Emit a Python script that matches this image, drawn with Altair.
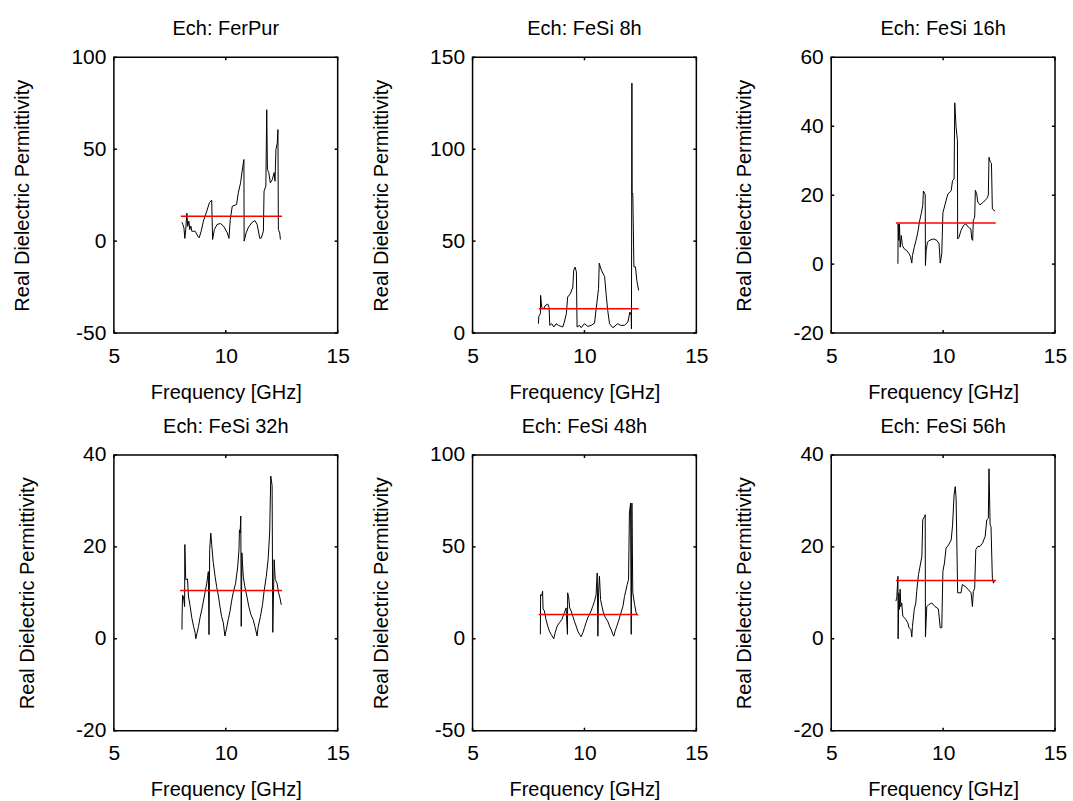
import altair as alt
import pandas as pd

FONT = "Liberation Sans"
W, H = 224, 276

titles = ["Ech: FerPur", "Ech: FeSi 8h", "Ech: FeSi 16h",
          "Ech: FeSi 32h", "Ech: FeSi 48h", "Ech: FeSi 56h"]

y_domains = [[-50, 100], [0, 150], [-20, 60], [-20, 40], [-50, 100], [-20, 40]]
y_ticks = [[-50, 0, 50, 100], [0, 50, 100, 150], [-20, 0, 20, 40, 60],
           [-20, 0, 20, 40], [-50, 0, 50, 100], [-20, 0, 20, 40]]
x_ticks = [5, 10, 15]

# Panel 1: FerPur
f1 = [8.04, 8.08, 8.13, 8.17, 8.21, 8.26, 8.30, 8.35, 8.39, 8.44, 8.48, 8.63, 8.75, 8.81,
      8.90, 9.00, 9.15, 9.27, 9.37, 9.41, 9.49, 9.61, 9.76, 9.90, 10.07, 10.14, 10.20, 10.29,
      10.48, 10.56, 10.66, 10.75, 10.81, 10.82, 10.91, 11.00, 11.15, 11.30, 11.40, 11.52,
      11.59, 11.68, 11.71, 11.79, 11.83, 11.86, 11.92, 11.99, 12.08, 12.16, 12.20, 12.24,
      12.30, 12.33, 12.35, 12.41, 12.44]
e1 = [10.3, 9.1, 7.2, 1.5, 6.3, 15.2, 8.0, 10.9, 6.3, 8.2, 5.4, 5.4, 2.7, 1.8,
      5.4, 10.9, 16.3, 21.0, 22.3, 0.9, 6.3, 9.1, 9.6, 8.2, 4.5, 1.5, 11.8, 19.0,
      19.9, 26.3, 31.7, 39.9, 44.4, 0.0, 4.5, 7.2, 9.9, 11.2, 9.1, 1.5,
      1.8, 5.4, 27.2, 29.9, 71.5, 39.1, 37.3, 31.7, 33.5, 37.3, 32.6, 49.8,
      53.3, 60.7, 6.3, 4.5, 0.9]

# Panel 2: FeSi 8h
f2 = [7.94, 7.96, 8.03, 8.04, 8.09, 8.18, 8.24, 8.36, 8.42, 8.45, 8.54, 8.63, 8.73, 8.84,
      8.96, 9.03, 9.10, 9.19, 9.25, 9.37, 9.48, 9.52, 9.58, 9.64, 9.67, 9.78, 9.85, 10.00,
      10.15, 10.30, 10.45, 10.55, 10.63, 10.66, 10.75, 10.82, 10.90, 10.97, 11.04, 11.12,
      11.27, 11.49, 11.61, 11.79, 11.94, 12.03, 12.09, 12.10, 12.12, 12.13, 12.16, 12.21,
      12.28, 12.34, 12.42]
e2 = [5.1, 9.1, 10.5, 20.5, 14.0, 13.2, 14.9, 15.8, 14.0, 4.2, 5.1, 3.3, 5.1, 4.2,
      3.6, 3.3, 6.0, 10.5, 19.6, 21.4, 25.0, 34.1, 35.9, 33.3, 3.3, 4.2, 2.9, 5.1,
      3.6, 4.2, 5.4, 15.9, 24.3, 38.0, 34.4, 32.6, 30.8, 21.0, 12.3, 5.1,
      2.9, 5.1, 4.2, 4.2, 6.0, 11.4, 9.6, 2.3, 136.0, 75.7, 76.0, 36.0,
      36.0, 28.6, 23.2]

# Panel 3: FeSi 16h
f3 = [7.98, 7.99, 8.02, 8.05, 8.08, 8.13, 8.18, 8.27, 8.38, 8.48, 8.54, 8.60, 8.63, 8.71,
      8.79, 8.87, 8.94, 9.02, 9.09, 9.12, 9.20, 9.21, 9.24, 9.30, 9.42, 9.57, 9.72, 9.82,
      9.87, 9.94, 9.99, 10.09, 10.21, 10.36, 10.42, 10.49, 10.52, 10.58, 10.64, 10.65,
      10.71, 10.80, 10.91, 11.01, 11.13, 11.24, 11.28, 11.32, 11.35, 11.41, 11.44, 11.50,
      11.55, 11.65, 11.80, 11.95, 12.02, 12.05, 12.11, 12.16, 12.20, 12.32]
e3 = [0.1, 11.7, 6.9, 11.7, 4.9, 8.3, 5.4, 4.4, 3.9, 3.0, 2.2, 0.3, 2.5, 4.9,
      6.9, 9.3, 12.2, 14.6, 17.0, 21.2, 20.2, -0.4, 3.9, 6.4, 7.0, 7.3, 6.9, 5.9,
      0.3, 3.0, 14.9, 17.4, 20.3, 21.3, 24.2, 24.7, 46.8, 39.7, 35.8, 7.3,
      7.8, 9.8, 11.2, 11.7, 10.7, 10.2, 7.3, 6.9, 12.7, 13.6, 21.4, 20.4,
      18.0, 17.2, 18.0, 19.0, 20.0, 31.0, 29.6, 29.3, 16.0, 15.4]

# Panel 4: FeSi 32h
f4 = [8.04, 8.05, 8.07, 8.11, 8.16, 8.17, 8.21, 8.29, 8.33, 8.41, 8.48, 8.56, 8.63, 8.66,
      8.72, 8.78, 8.85, 8.93, 9.00, 9.07, 9.15, 9.22, 9.25, 9.28, 9.33, 9.37, 9.44, 9.52,
      9.59, 9.67, 9.74, 9.81, 9.89, 9.96, 10.04, 10.11, 10.19, 10.26, 10.33, 10.44, 10.53,
      10.59, 10.61, 10.64, 10.67, 10.69, 10.72, 10.78, 10.85, 10.94, 11.03, 11.12, 11.22,
      11.30, 11.40, 11.44, 11.55, 11.64, 11.71, 11.81, 11.89, 11.96, 12.01, 12.07, 12.10,
      12.16, 12.21, 12.29, 12.36, 12.42, 12.48]
e4 = [2.0, 5.6, 9.5, 9.1, 7.0, 20.5, 12.9, 13.0, 9.3, 7.0, 4.6, 2.7, 1.3, 0.0,
      1.3, 2.7, 4.6, 6.4, 8.2, 10.0, 12.1, 14.6, 0.9, 19.4, 23.0, 20.5, 16.6, 13.6,
      11.4, 9.3, 7.0, 4.9, 3.5, 0.6, 2.4, 4.2, 6.0, 8.2, 10.0, 12.1, 15.6,
      19.4, 23.7, 23.0, 26.7, 2.7, 18.7, 13.6, 11.4, 9.3, 7.0, 5.3, 4.2,
      2.7, 0.6, 2.4, 4.9, 7.4, 10.3, 13.6, 17.2, 23.0, 35.4, 33.3, 1.4,
      17.2, 12.9, 12.1, 10.0, 8.9, 7.4]

# Panel 5: FeSi 48h
f5 = [8.03, 8.04, 8.09, 8.13, 8.15, 8.21, 8.28, 8.36, 8.43, 8.51, 8.63, 8.69, 8.78, 8.88,
      8.99, 9.10, 9.18, 9.24, 9.25, 9.30, 9.34, 9.40, 9.48, 9.55, 9.63, 9.70, 9.78, 9.85,
      9.93, 10.00, 10.07, 10.15, 10.22, 10.30, 10.37, 10.45, 10.52, 10.57, 10.60, 10.63,
      10.67, 10.72, 10.78, 10.85, 10.94, 11.04, 11.12, 11.19, 11.27, 11.31, 11.37, 11.45,
      11.52, 11.61, 11.72, 11.79, 11.91, 11.97, 12.01, 12.06, 12.09, 12.12, 12.16, 12.24,
      12.31, 12.39]
e5 = [2.4, 24.0, 23.5, 25.9, 16.3, 15.2, 10.5, 6.9, 4.2, 2.4, 0.0, 3.3, 6.9, 8.7,
      10.5, 14.1, 16.8, 2.4, 25.0, 22.2, 16.8, 15.2, 12.3, 9.6, 6.9, 4.2, 2.4, 1.1,
      3.3, 6.0, 8.7, 11.4, 13.2, 15.2, 17.7, 20.4, 24.0, 35.8, 1.4, 25.0,
      34.0, 21.3, 17.7, 14.1, 11.4, 9.6, 6.9, 5.1, 2.4, 1.4, 4.2, 6.9,
      9.6, 13.2, 17.7, 23.0, 29.5, 32.2, 68.4, 73.8, 2.4, 73.8, 25.0, 18.6,
      14.1, 12.7]

# Panel 6: FeSi 56h
f6 = [7.89, 7.93, 7.98, 7.99, 8.02, 8.05, 8.08, 8.11, 8.15, 8.20, 8.27, 8.33, 8.42, 8.48,
      8.56, 8.60, 8.63, 8.71, 8.78, 8.82, 8.90, 8.97, 9.05, 9.09, 9.17, 9.20, 9.21, 9.27,
      9.35, 9.49, 9.64, 9.79, 9.87, 9.94, 9.99, 10.06, 10.13, 10.24, 10.36, 10.42, 10.49,
      10.54, 10.58, 10.65, 10.71, 10.80, 10.86, 10.98, 11.13, 11.25, 11.31, 11.35, 11.41,
      11.46, 11.55, 11.65, 11.76, 11.88, 11.95, 12.02, 12.05, 12.10, 12.14, 12.20, 12.25,
      12.29, 12.35]
e6 = [8.2, 8.9, 13.6, 0.0, 10.0, 6.4, 10.8, 7.0, 7.8, 4.9, 4.6, 4.2, 3.5, 2.4,
      2.0, 0.4, 2.7, 6.4, 7.8, 10.3, 14.0, 15.8, 17.9, 25.9, 26.6, 27.0, 0.4, 7.0,
      7.4, 7.8, 7.0, 6.5, 2.4, 2.4, 14.7, 16.5, 19.7, 20.4, 21.5, 24.6, 31.3,
      33.1, 30.6, 10.0, 10.0, 10.0, 11.8, 11.4, 10.7, 10.0, 7.0, 10.3, 11.0,
      19.4, 20.1, 20.1, 20.8, 22.3, 25.9, 26.2, 37.0, 24.8, 24.4, 13.2, 12.1,
      12.7, 12.7]

freqs = [f1, f2, f3, f4, f5, f6]
perms = [e1, e2, e3, e4, e5, e6]

# Mean (red) lines: start freq, end freq, level
mean_start = [7.99, 7.96, 7.89, 7.96, 7.96, 7.89]
mean_end = [12.51, 12.42, 12.35, 12.51, 12.39, 12.35]
mean_level = [13.6, 13.2, 11.9, 10.5, 13.2, 12.7]

FS = 21


def panel(i):
    df = pd.DataFrame({"f": freqs[i], "e": perms[i], "k": list(range(len(freqs[i])))})
    xs = alt.Scale(domain=[5, 15], nice=False, zero=False)
    ys = alt.Scale(domain=y_domains[i], nice=False, zero=False)
    xaxis = alt.Axis(values=x_ticks, title="Frequency [GHz]", grid=False, ticks=False,
                     domain=False, labelFlush=False, labelPadding=12, titlePadding=16,
                     labelExpr="'' + datum.value")
    yaxis = alt.Axis(values=y_ticks[i], title="Real Dielectric Permittivity", grid=False,
                     ticks=False, domain=False, labelPadding=8, titlePadding=38,
                     labelExpr="'' + datum.value")
    mdf = pd.DataFrame({"mf": [mean_start[i], mean_end[i]],
                        "me": [mean_level[i], mean_level[i]]})
    mean = alt.Chart(mdf).mark_line(color="#ff0000", strokeWidth=1.5).encode(
        x=alt.X("mf:Q", scale=xs, axis=xaxis), y=alt.Y("me:Q", scale=ys, axis=yaxis))
    line = alt.Chart(df).mark_line(color="black", strokeWidth=1, clip=True).encode(
        x=alt.X("f:Q", scale=xs, axis=xaxis),
        y=alt.Y("e:Q", scale=ys, axis=yaxis),
        order="k:Q",
    )
    xt = pd.DataFrame({"v": x_ticks})
    yt = pd.DataFrame({"v": y_ticks[i]})
    tb = alt.Chart(xt).mark_rule(color="black", strokeWidth=1.5).encode(
        x=alt.X("v:Q", scale=xs), y=alt.value(H), y2=alt.value(H - 3))
    tt = alt.Chart(xt).mark_rule(color="black", strokeWidth=1.5).encode(
        x=alt.X("v:Q", scale=xs), y=alt.value(0), y2=alt.value(3))
    tl = alt.Chart(yt).mark_rule(color="black", strokeWidth=1.5).encode(
        y=alt.Y("v:Q", scale=ys), x=alt.value(0), x2=alt.value(3))
    tr = alt.Chart(yt).mark_rule(color="black", strokeWidth=1.5).encode(
        y=alt.Y("v:Q", scale=ys), x=alt.value(W), x2=alt.value(W - 3))
    return alt.layer(line, mean, tb, tt, tl, tr).properties(
        width=W, height=H,
        title=alt.TitleParams(titles[i], fontSize=FS - 1, font=FONT, fontWeight="normal",
                              color="black", offset=7),
    )


chart = alt.concat(*[panel(i) for i in range(6)], columns=3,
                   spacing={"row": 122, "column": 135}).properties(
    bounds="flush",
    padding={"left": 12, "top": 18, "right": 5, "bottom": 5},
    background="white",
).configure_view(
    stroke="black", strokeWidth=1.5
).configure_axis(
    labelFont=FONT, titleFont=FONT, labelFontSize=FS, titleFontSize=FS - 1,
    labelColor="black", titleColor="black", titleFontWeight="normal",
)

chart.save("out.html", embed_options={"renderer": "svg", "actions": False})
